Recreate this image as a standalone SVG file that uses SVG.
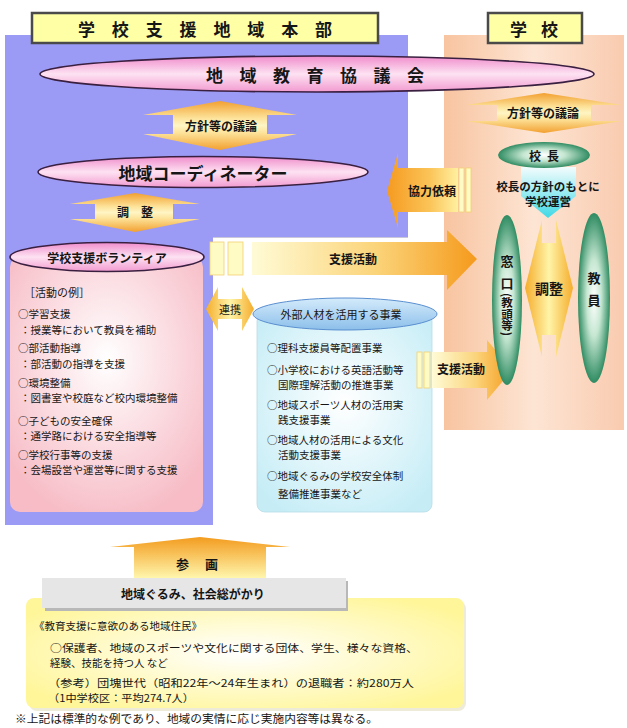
<svg xmlns="http://www.w3.org/2000/svg" width="627" height="728" viewBox="0 0 627 728">
<defs>
  <linearGradient id="gPeach" x1="0" y1="0" x2="1" y2="0">
    <stop offset="0" stop-color="#f8c4a0"/><stop offset="0.5" stop-color="#fde5d4"/><stop offset="1" stop-color="#f9cbaf"/>
  </linearGradient>
  <linearGradient id="gPinkEll" x1="0" y1="0" x2="0" y2="1">
    <stop offset="0" stop-color="#f08ccc"/><stop offset="0.5" stop-color="#fde2f2"/><stop offset="1" stop-color="#f29ad0"/>
  </linearGradient>
  <radialGradient id="gPinkBox" cx="0.5" cy="0.4" r="0.65">
    <stop offset="0" stop-color="#ffffff"/><stop offset="1" stop-color="#f7bcc6"/>
  </radialGradient>
  <radialGradient id="gCyanBox" cx="0.5" cy="0.45" r="0.65">
    <stop offset="0" stop-color="#ffffff"/><stop offset="1" stop-color="#c6edf6"/>
  </radialGradient>
  <radialGradient id="gYellowBox" cx="0.5" cy="0.5" r="0.6">
    <stop offset="0" stop-color="#ffffff"/><stop offset="1" stop-color="#fff69a"/>
  </radialGradient>
  <linearGradient id="gArrowV" x1="0" y1="0" x2="0" y2="1">
    <stop offset="0" stop-color="#f2a030"/><stop offset="0.35" stop-color="#fde39a"/><stop offset="0.5" stop-color="#fff5c4"/><stop offset="0.65" stop-color="#fde39a"/><stop offset="1" stop-color="#f2a030"/>
  </linearGradient>
  <linearGradient id="gArrowUp" x1="0" y1="0" x2="0" y2="1">
    <stop offset="0" stop-color="#f39c1e"/><stop offset="1" stop-color="#fff8b0"/>
  </linearGradient>
  <linearGradient id="gArrowR" x1="0" y1="0" x2="1" y2="0">
    <stop offset="0" stop-color="#fffbd6"/><stop offset="0.55" stop-color="#fbd47a"/><stop offset="1" stop-color="#f59a1c"/>
  </linearGradient>
  <linearGradient id="gArrowL" x1="0" y1="0" x2="1" y2="0">
    <stop offset="0" stop-color="#f59a20"/><stop offset="0.6" stop-color="#fbc458"/><stop offset="1" stop-color="#fff0a0"/>
  </linearGradient>
  <linearGradient id="gArrowH" x1="0" y1="0" x2="1" y2="0">
    <stop offset="0" stop-color="#f5ad2c"/><stop offset="0.5" stop-color="#fff4a8"/><stop offset="1" stop-color="#f5ad2c"/>
  </linearGradient>
  <radialGradient id="gGreen" cx="0.5" cy="0.5" r="0.5">
    <stop offset="0" stop-color="#ffffff"/><stop offset="0.45" stop-color="#c6e7d2"/><stop offset="1" stop-color="#2f8c62"/>
  </radialGradient>
  <linearGradient id="gCyanTri" x1="0" y1="0" x2="0" y2="1">
    <stop offset="0" stop-color="#f4fcfd"/><stop offset="1" stop-color="#3fd9e6"/>
  </linearGradient>
  <linearGradient id="gBlueEll" x1="0" y1="0" x2="0" y2="1">
    <stop offset="0" stop-color="#d4ebfb"/><stop offset="1" stop-color="#8cbfea"/>
  </linearGradient>
</defs>
<style>
  text { font-family: 'Noto Sans CJK JP', 'Noto Sans', sans-serif; fill: #161616; }
  .b { font-weight: 700; }
  .c { text-anchor: middle; dominant-baseline: central; }
  .l { dominant-baseline: central; }
  .t10 { font-size: 10.5px; }
  .t11 { font-size: 11px; }
  .t12 { font-size: 12px; }
  .hdr { fill: #ffffa6; stroke: #4a4a4a; stroke-width: 2.5; }
  .pinkEll { fill: url(#gPinkEll); stroke: #3a2040; stroke-width: 1.6; }
  .green { fill: url(#gGreen); }
  .stripe { fill: #fffbc4; stroke: #f3d070; stroke-width: 0.8; }
</style>

<g id="backgrounds">
  <path d="M5,35 H408 V237 H213 V525 H5 Z" fill="#9b9bf6"/>
  <path d="M213,237.5 H408" stroke="#c8c8d8" stroke-width="1"/>
  <rect x="444" y="35" width="180" height="395" fill="url(#gPeach)"/>
</g>

<g id="header-honbu">
  <rect class="hdr" x="32" y="13" width="346" height="30"/>
  <text class="b c" x="205" y="28" font-size="17" textLength="254" lengthAdjust="spacing">学校支援地域本部</text>
</g>
<g id="header-gakko">
  <rect class="hdr" x="488" y="13" width="94" height="30"/>
  <text class="b c" x="534" y="28" font-size="17" textLength="48" lengthAdjust="spacing">学校</text>
</g>

<g id="kyogikai">
  <ellipse class="pinkEll" cx="317" cy="74" rx="277" ry="18"/>
  <text class="b c" x="315" y="74" font-size="17" textLength="218" lengthAdjust="spacing">地域教育協議会</text>
</g>

<g id="coordinator">
  <ellipse class="pinkEll" cx="203" cy="172" rx="165" ry="15.5"/>
  <text class="b c" x="203" y="172" font-size="17">地域コーディネーター</text>
</g>

<g id="volunteer">
  <rect x="10" y="257" width="193" height="255" rx="10" fill="url(#gPinkBox)"/>
  <ellipse class="pinkEll" cx="107" cy="257" rx="97" ry="14.5"/>
  <text class="b c t12" x="107" y="257">学校支援ボランティア</text>
  <text class="l t11" x="24" y="292">［活動の例］</text>
  <text class="l t10" x="18" y="313">○学習支援</text>
  <text class="l t10" x="20" y="329">：授業等において教員を補助</text>
  <text class="l t10" x="18" y="347">○部活動指導</text>
  <text class="l t10" x="20" y="363">：部活動の指導を支援</text>
  <text class="l t10" x="18" y="382">○環境整備</text>
  <text class="l t10" x="20" y="397">：図書室や校庭など校内環境整備</text>
  <text class="l t10" x="18" y="420">○子どもの安全確保</text>
  <text class="l t10" x="20" y="435">：通学路における安全指導等</text>
  <text class="l t10" x="18" y="454">○学校行事等の支援</text>
  <text class="l t10" x="20" y="469">：会場設営や運営等に関する支援</text>
</g>

<g id="gaibu">
  <rect x="257" y="313" width="175" height="199" rx="8" fill="url(#gCyanBox)" stroke="#b8dce6" stroke-width="0.8"/>
  <ellipse cx="345" cy="314" rx="92" ry="16" fill="url(#gBlueEll)" stroke="#5a8fd0" stroke-width="1"/>
  <text class="c t11" x="341" y="314">外部人材を活用する事業</text>
  <text class="l t10" x="267" y="347">○理科支援員等配置事業</text>
  <text class="l t10" x="267" y="369">○小学校における英語活動等</text>
  <text class="l t10" x="278" y="384">国際理解活動の推進事業</text>
  <text class="l t10" x="267" y="404">○地域スポーツ人材の活用実</text>
  <text class="l t10" x="278" y="419">践支援事業</text>
  <text class="l t10" x="267" y="439">○地域人材の活用による文化</text>
  <text class="l t10" x="278" y="454">活動支援事業</text>
  <text class="l t10" x="267" y="475">○地域ぐるみの学校安全体制</text>
  <text class="l t10" x="278" y="493">整備推進事業など</text>
</g>

<g id="connectors">
  <g id="arrow-hoshin-left">
    <path d="M220,101 L297,115 L267,115 L267,134 L297,134 L220,150 L143,134 L173,134 L173,115 L143,115 Z" fill="url(#gArrowV)"/>
    <text class="b c t12" x="221" y="125">方針等の議論</text>
  </g>
  <g id="arrow-chosei-left">
    <path d="M135,193 L200,204 L173,204 L173,219 L200,219 L135,232 L70,219 L95,219 L95,204 L70,204 Z" fill="url(#gArrowV)"/>
    <text class="b c t12" x="135" y="211" textLength="36" lengthAdjust="spacing">調整</text>
  </g>
  <g id="arrow-hoshin-right">
    <path d="M544,93 L622,105 L591,105 L591,121 L622,121 L544,133 L466,121 L497,121 L497,105 L466,105 Z" fill="url(#gArrowV)"/>
    <text class="b c t12" x="543" y="112">方針等の議論</text>
  </g>
  <g id="arrow-kyoryoku">
    <path d="M387,191 L398,153 L398,168 L458,168 L458,212 L398,212 L398,228 Z" fill="url(#gArrowL)"/>
    <rect class="stripe" x="459" y="168" width="5" height="44"/>
    <rect class="stripe" x="466" y="168" width="5" height="44"/>
    <text class="b c t12" x="432" y="190">協力依頼</text>
  </g>
  <g id="arrow-shien-top">
    <rect class="stripe" x="210" y="242" width="14" height="33"/>
    <rect class="stripe" x="228" y="242" width="15" height="33"/>
    <path d="M252,242 H447 V230 L477,259 L447,290 V275 H252 Z" fill="url(#gArrowR)"/>
    <text class="b c t12" x="353" y="258">支援活動</text>
  </g>
  <g id="arrow-renkei">
    <path d="M206,309 L218,287 L218,299 L242,299 L242,287 L254,309 L242,331 L242,319 L218,319 L218,331 Z" fill="url(#gArrowH)"/>
    <text class="c t11" x="230" y="309">連携</text>
  </g>
  <g id="arrow-shien-bottom">
    <rect class="stripe" x="417" y="352" width="5" height="36"/>
    <rect class="stripe" x="424" y="352" width="6" height="36"/>
    <path d="M432,352 H487 V340 L512,370 L487,400 V388 H432 Z" fill="url(#gArrowR)"/>
    <text class="b c t12" x="461" y="368">支援活動</text>
  </g>
  <g id="arrow-sankaku">
    <path d="M200,537 L290,547 L266,547 L266,579 L134,579 L134,547 L110,547 Z" fill="url(#gArrowUp)"/>
    <text class="b c" x="197" y="563" font-size="13" textLength="42" lengthAdjust="spacing">参画</text>
  </g>
  <g id="arrow-chosei-right">
    <path d="M542,220 V243 H556 V220 L573,288 L556,357 V335 H542 V357 L525,288 Z" fill="url(#gArrowH)"/>
    <text class="b c" x="549" y="288" font-size="14">調整</text>
  </g>
</g>

<g id="kocho">
  <path d="M521,167 H576 V196 L548,218 L521,196 Z" fill="url(#gCyanTri)"/>
  <ellipse class="green" cx="544" cy="155" rx="46" ry="13"/>
  <text class="b c t12" x="544" y="155" textLength="30" lengthAdjust="spacing">校長</text>
  <text class="b c" x="548" y="186" font-size="11.5">校長の方針のもとに</text>
  <text class="b c" x="548" y="201" font-size="11.5">学校運営</text>
</g>

<g id="madoguchi">
  <ellipse class="green" cx="507" cy="300" rx="15" ry="85"/>
  <text class="b c" x="507" y="260" font-size="13">窓</text>
  <text class="b c" x="507" y="282" font-size="13">口</text>
  <text class="b" x="507" y="293" font-size="11.5" writing-mode="vertical-rl" text-anchor="start">(教頭等)</text>
</g>

<g id="kyoin">
  <ellipse class="green" cx="594" cy="298" rx="16" ry="85"/>
  <text class="b c" x="594" y="277" font-size="13">教</text>
  <text class="b c" x="594" y="299" font-size="13">員</text>
</g>

<g id="chiiki-jumin">
  <rect x="29" y="601" width="437" height="110" rx="8" fill="#e2ddc0" opacity="0.6"/>
  <rect x="26" y="598" width="438" height="110" rx="8" fill="url(#gYellowBox)"/>
  <rect x="45" y="581" width="303" height="30" fill="#b8b8b8"/>
  <rect x="42" y="578" width="304" height="30" fill="#e6e6e6"/>
  <text class="b c t12" x="193" y="593">地域ぐるみ、社会総がかり</text>
  <text class="l" x="34" y="625" font-size="10.5" textLength="168" lengthAdjust="spacingAndGlyphs">《教育支援に意欲のある地域住民》</text>
  <text class="l t10" x="50" y="647" textLength="368" lengthAdjust="spacingAndGlyphs">○保護者、地域のスポーツや文化に関する団体、学生、様々な資格、</text>
  <text class="l t10" x="50" y="662">経験、技能を持つ人 など</text>
  <text class="l t10" x="48" y="682" textLength="366" lengthAdjust="spacingAndGlyphs">（参考）団塊世代（昭和22年～24年生まれ）の退職者：約280万人</text>
  <text class="l t10" x="48" y="697" textLength="146" lengthAdjust="spacingAndGlyphs">（1中学校区：平均274.7人）</text>
</g>

<g id="footnote">
  <text class="l t11" x="15" y="718" textLength="363" lengthAdjust="spacingAndGlyphs">※上記は標準的な例であり、地域の実情に応じ実施内容等は異なる。</text>
</g>
</svg>
